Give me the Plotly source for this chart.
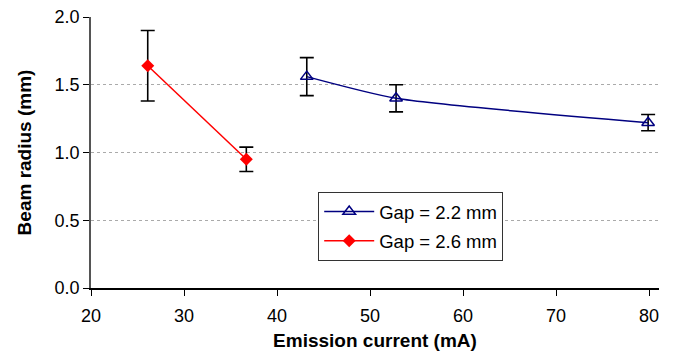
import plotly.graph_objects as go

# Data
gap22_x = [43.2, 52.8, 79.9]
gap22_y = [1.56, 1.40, 1.22]
gap22_err = [0.14, 0.10, 0.06]

gap26_x = [26.1, 36.7]
gap26_y = [1.64, 0.95]
gap26_err = [0.26, 0.09]

x_ticks = [20, 30, 40, 50, 60, 70, 80]
y_ticks = [0.0, 0.5, 1.0, 1.5, 2.0]

font_family = "Liberation Sans, Arial, sans-serif"

fig = go.Figure()
fig.add_trace(go.Scatter(
    x=gap22_x, y=gap22_y, name="Gap = 2.2 mm", mode="lines+markers", legendgroup="a",
    line=dict(color="#000080", width=1.5, shape="spline", smoothing=0.6),
    marker=dict(symbol="triangle-up-open", size=11, color="#000080", line=dict(width=1.5, color="#000080")),
    error_y=dict(type="data", array=gap22_err, visible=True, color="black", thickness=1.6, width=7),
))
fig.add_trace(go.Scatter(
    x=gap26_x, y=gap26_y, name="Gap = 2.6 mm", mode="lines+markers", legendgroup="b",
    line=dict(color="#ff0000", width=1.5),
    marker=dict(symbol="diamond", size=10, color="#ff0000"),
    error_y=dict(type="data", array=gap26_err, visible=True, color="black", thickness=1.6, width=7),
))

fig.update_layout(
    width=673, height=351,
    margin=dict(l=91, r=14, t=17, b=63),
    paper_bgcolor="white", plot_bgcolor="white",
    font=dict(family=font_family, size=16, color="black"),
    showlegend=True,
    legend=dict(
        x=0.400, y=0.354, xanchor="left", yanchor="top",
        bordercolor="#333333", borderwidth=1, bgcolor="white",
        font=dict(size=18.5), tracegroupgap=2, itemwidth=50,
    ),
    xaxis=dict(
        range=[20, 81.07], tickvals=x_ticks, ticks="outside", ticklen=6,
        tickcolor="black", showline=True, linecolor="black", linewidth=1.5,
        showgrid=False, zeroline=False, ticklabelstandoff=5, automargin=False,
        title=dict(text="<b>Emission current (mA)</b>", font=dict(size=19), standoff=9),
        tickfont=dict(size=18),
    ),
    yaxis=dict(
        range=[0, 2.0], tickvals=y_ticks, tickformat=".1f", ticks="outside", ticklen=6,
        tickcolor="black", showline=True, linecolor="#555555", linewidth=1.5,
        showgrid=True, gridcolor="#aaaaaa", griddash="3px,3px", gridwidth=1,
        zeroline=False, automargin=False,
        title=dict(text="<b>Beam radius (mm)</b>", font=dict(size=19), standoff=18),
        tickfont=dict(size=18),
    ),
)

fig.write_html("out.html")
